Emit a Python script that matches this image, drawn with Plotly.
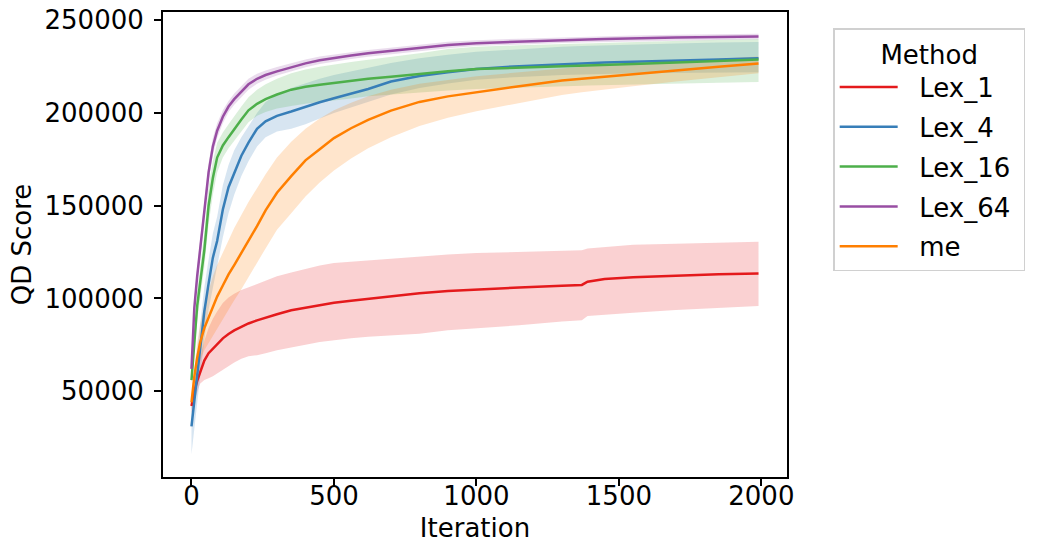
import plotly.graph_objects as go

iterations = [0, 10, 20, 30, 45, 60, 75, 90, 110, 130, 150, 175, 200, 230, 260, 300, 350, 400, 450,
              500, 560, 620, 700, 800, 900, 1000, 1150, 1300, 1370, 1390, 1450, 1550, 1700, 1850, 1990]

methods = ["Lex_1", "Lex_4", "Lex_16", "Lex_64", "me"]
colors = ["#e41a1c", "#377eb8", "#4daf4a", "#984ea3", "#ff7f00"]
band_colors = ["rgba(228,26,28,0.2)", "rgba(55,126,184,0.2)", "rgba(77,175,74,0.2)",
               "rgba(152,78,163,0.2)", "rgba(255,127,0,0.2)"]

lex1_mean = [42000, 50000, 55500, 60000, 66500, 70500, 73000, 75700, 78500, 80800, 82800, 84700, 86500,
             88200, 89700, 91500, 93600, 95000, 96500, 97700, 98800, 99800, 101200, 102800, 104000, 104800,
             105900, 106800, 107300, 109000, 110500, 111500, 112400, 113000, 113500]
lex1_low = [38000, 45000, 50000, 54000, 56000, 57000, 58000, 59500, 61500, 63500, 65500, 67500, 68800,
            69400, 70500, 72000, 73700, 75000, 76500, 77500, 78500, 79300, 80200, 81000, 82800, 83800,
            85500, 87600, 88300, 90500, 91200, 92300, 93800, 95000, 95900]
lex1_high = [47000, 55000, 62000, 68000, 77000, 84000, 89000, 93000, 97500, 100500, 102500, 104500, 106000,
             107500, 109500, 112000, 114000, 116000, 117800, 119100, 119800, 120500, 121300, 122300, 123700,
             124500, 125000, 125700, 126000, 127000, 127600, 128900, 129500, 130000, 130600]

lex4_mean = [31000, 45000, 60000, 71000, 93000, 108000, 122000, 131000, 148000, 160000, 168000, 177000,
             184000, 191500, 195500, 198500, 200800, 203400, 205800, 208000, 210500, 213000, 217000, 220000,
             222000, 223800, 225300, 226500, 226800, 226900, 227200, 227700, 228300, 228900, 229500]
lex4_low = [16000, 30000, 45000, 57000, 78000, 94000, 107000, 117000, 133000, 146000, 156000, 166000,
            174000, 182000, 187000, 190000, 191500, 194000, 197000, 200000, 203000, 206000, 210000, 213500,
            216000, 218000, 219500, 220500, 220800, 220900, 221100, 221400, 221700, 221900, 222000]
lex4_high = [44000, 58000, 73000, 84000, 106000, 121000, 135000, 144000, 161000, 172000, 180000, 187000,
             193000, 200000, 206000, 210000, 213500, 216000, 218500, 220500, 222500, 224500, 227000, 229500,
             231500, 233000, 234500, 235800, 236200, 236300, 236600, 237000, 237500, 238000, 238300]

lex16_mean = [56000, 78000, 96000, 108000, 126000, 150000, 165000, 176000, 182500, 187000, 191500, 196500,
              201500, 205000, 207500, 210000, 212600, 214200, 215300, 216300, 217200, 218500, 219600, 221300,
              222600, 223700, 224400, 225000, 225300, 225400, 225800, 226500, 227300, 228100, 228900]
lex16_low = [53000, 72000, 88000, 100000, 117000, 140000, 156000, 168000, 176000, 181000, 185000, 190000,
             195000, 198500, 200500, 202500, 203800, 205000, 206000, 206800, 207800, 209000, 210200, 211200,
             212200, 213000, 213800, 214400, 214700, 214800, 215100, 215500, 216000, 216400, 216700]
lex16_high = [59000, 84000, 104000, 116000, 135000, 160000, 174000, 184000, 189500, 194000, 198500, 203500,
              208500, 212500, 215500, 218500, 221500, 223500, 225000, 226300, 227500, 228800, 230200, 232300,
              234600, 235700, 236600, 237300, 237600, 237700, 238000, 238500, 239000, 239500, 240000]

lex64_mean = [62000, 95000, 112000, 126000, 148000, 168000, 182000, 190500, 198000, 203500, 207500, 211500,
              215500, 218500, 220500, 222500, 224800, 226800, 228500, 229800, 231000, 232200, 233600, 235200,
              236700, 237700, 238600, 239300, 239600, 239700, 239900, 240300, 240700, 241000, 241300]
lex64_low = [59000, 91000, 107000, 121000, 143000, 163000, 177500, 186500, 194500, 200500, 204500, 208500,
             212500, 215800, 218000, 220200, 222600, 224700, 226500, 227900, 229200, 230400, 231800, 233500,
             235000, 236100, 237100, 237800, 238100, 238200, 238400, 238800, 239200, 239500, 239800]
lex64_high = [65000, 99000, 117000, 131000, 153000, 173000, 186500, 194500, 201500, 206500, 210500, 214500,
              218500, 221200, 223000, 224800, 227000, 228900, 230500, 231700, 232800, 234000, 235400, 236900,
              238400, 239300, 240100, 240800, 241100, 241200, 241400, 241800, 242200, 242500, 242800]

me_mean = [44000, 58000, 68000, 76000, 84000, 90000, 96000, 101000, 107000, 113000, 118000, 124500, 131000,
           139000, 147500, 157000, 166000, 174500, 180500, 186500, 191800, 196300, 201300, 206000, 209000,
           211300, 214500, 217600, 218600, 218900, 219800, 221000, 223000, 225000, 226700]
me_low = [40000, 52000, 60000, 66000, 72000, 76000, 80000, 84000, 89000, 94000, 99000, 105000, 111000,
          119000, 127000, 137000, 146000, 155000, 162500, 169000, 175500, 181000, 187000, 193000, 197500,
          201000, 205500, 209800, 211200, 211600, 212800, 214500, 217000, 219500, 221500]
me_high = [48000, 64000, 76000, 86000, 96000, 104000, 112000, 118000, 125000, 132000, 138000, 145000,
           152000, 159500, 167000, 176000, 184500, 191500, 197000, 201500, 205500, 209000, 212500, 215800,
           218000, 219800, 222000, 224200, 225000, 225200, 225800, 226800, 228000, 229300, 230500]

means = [lex1_mean, lex4_mean, lex16_mean, lex64_mean, me_mean]
lows = [lex1_low, lex4_low, lex16_low, lex64_low, me_low]
highs = [lex1_high, lex4_high, lex16_high, lex64_high, me_high]

y_ticks = [50000, 100000, 150000, 200000, 250000]
x_ticks = [0, 500, 1000, 1500, 2000]

FONT = "DejaVu Sans"
FS = 26
NB = "\u00a0"
fig = go.Figure()

for name, bc, lo, hi in zip(methods, band_colors, lows, highs):
    fig.add_trace(go.Scatter(
        x=iterations + iterations[::-1], y=hi + lo[::-1],
        fill="toself", fillcolor=bc, line=dict(width=0),
        mode="lines", showlegend=False, hoverinfo="skip"))

for name, c, m in zip(methods, colors, means):
    fig.add_trace(go.Scatter(x=iterations, y=m, mode="lines", name=NB * 2 + name + NB,
                             legendgroup=name,
                             line=dict(color=c, width=2.5)))

axis_common = dict(showline=True, linecolor="black", linewidth=2, mirror=True,
                   ticks="outside", ticklen=7, tickwidth=1.5, tickcolor="black",
                   showgrid=False, zeroline=False, automargin=False,
                   tickfont=dict(family=FONT, size=FS, color="black"))

fig.update_xaxes(range=[-100, 2090], tickvals=x_ticks, ticklabelstandoff=-12,
                 title=dict(text="Iteration", font=dict(family=FONT, size=FS, color="black"), standoff=9),
                 **axis_common)
fig.update_yaxes(range=[3700, 254500], tickvals=y_ticks, tickformat="d", ticklabelstandoff=5,
                 ticklabeloverflow="allow",
                 title=dict(text="QD Score", font=dict(family=FONT, size=FS, color="black"), standoff=5),
                 **axis_common)

fig.update_layout(
    width=1042, height=559,
    margin=dict(l=163, r=255, t=12, b=82),
    plot_bgcolor="white", paper_bgcolor="white",
    font=dict(family=FONT, size=FS, color="black"),
    legend=dict(
        title=dict(text="Method", side="top center", font=dict(family=FONT, size=FS)),
        x=1.074, y=0.965, xanchor="left", yanchor="top",
        bordercolor="#d0d0d0", borderwidth=1.5, bgcolor="white",
        font=dict(family=FONT, size=FS), itemwidth=58, tracegroupgap=3,
    ),
)

fig.write_html("out.html", config={"displayModeBar": False},
               post_script="document.body.style.margin='0';")
